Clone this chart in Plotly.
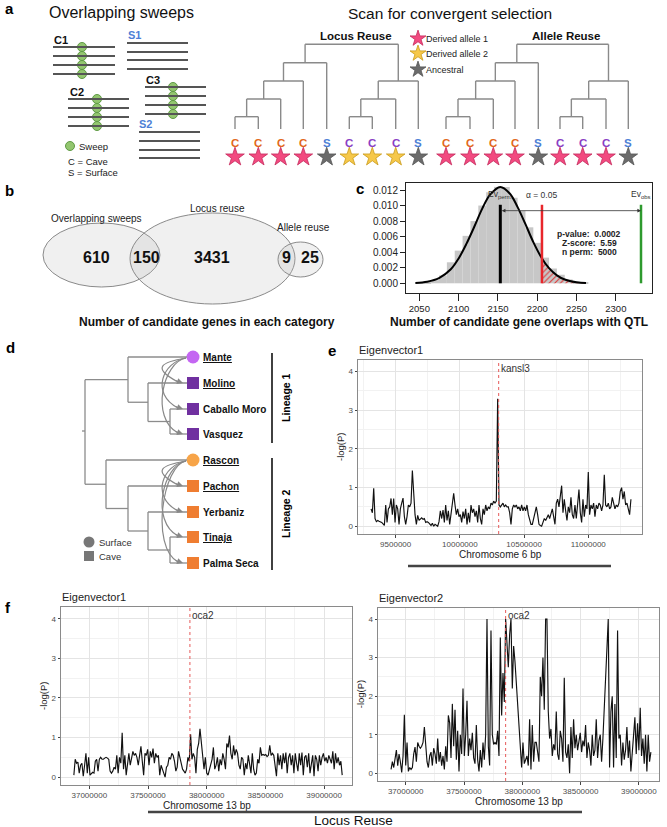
import plotly.graph_objects as go

W, H = 667, 827
FONT = "Liberation Sans, Arial, Helvetica, sans-serif"

# ======================= DATA =======================
# (a) schematic
sweep_blocks = ["C1", "S1", "C2", "C3", "S2"]
block_has_sweep = [True, False, True, True, False]
tree_names = ["Locus Reuse", "Allele Reuse"]
leaf_letters = ["C", "C", "C", "C", "S", "C", "C", "C", "S"]
leaf_group = ["cave1", "cave1", "cave1", "cave1", "surface", "cave2", "cave2", "cave2", "surface"]
locus_reuse_alleles = ["d1", "d1", "d1", "d1", "anc", "d2", "d2", "d2", "anc"]
allele_reuse_alleles = ["d1", "d1", "d1", "d1", "anc", "d1", "d1", "d1", "anc"]
allele_keys = ["d1", "d2", "anc"]
allele_legend = ["Derived allele 1", "Derived allele 2", "Ancestral"]

# (b) Venn counts
venn_set_names = ["Overlapping sweeps", "Locus reuse", "Allele reuse"]
venn_region_counts = [610, 150, 3431, 9, 25]

# (c) permutation test
hist_bin_centers = [2050, 2060, 2070, 2080, 2090, 2100, 2110, 2120, 2130, 2140, 2150,
                    2160, 2170, 2180, 2190, 2200, 2210, 2220, 2230, 2240, 2250, 2260]
hist_density = [0.0001, 0.0002, 0.0004, 0.0010, 0.0027, 0.0042, 0.0061, 0.0080, 0.0100, 0.0117, 0.0124,
                0.0124, 0.0110, 0.0093, 0.0072, 0.0052, 0.0033, 0.0019, 0.0011, 0.0005, 0.0002, 0.0001]
curve_x = [2045, 2060, 2075, 2090, 2100, 2110, 2120, 2130, 2140, 2153, 2165, 2175, 2185, 2195,
           2206, 2215, 2225, 2235, 2250, 2262]
curve_y = [0.00005, 0.0002, 0.00066, 0.0018, 0.0032, 0.0051, 0.0073, 0.0096, 0.0114, 0.0124, 0.01155,
           0.0098, 0.0076, 0.0053, 0.0032, 0.00195, 0.00102, 0.00048, 0.00013, 0.00004]
ev_perm = 2153
alpha_cut = 2206
ev_obs = 2332
vline_top = 0.0101
c_stat_lines = ["p-value:  0.0002", "Z-score:  5.59", "n perm:  5000"]
c_xticks = [2050, 2100, 2150, 2200, 2250, 2300]
c_yticks = [0.000, 0.002, 0.004, 0.006, 0.008, 0.010, 0.012]

# (d) populations
populations = ["Mante", "Molino", "Caballo Moro", "Vasquez", "Rascon",
               "Pachon", "Yerbaniz", "Tinaja", "Palma Seca"]
habitat = ["Surface", "Cave", "Cave", "Cave", "Surface", "Cave", "Cave", "Cave", "Cave"]
lineage = [1, 1, 1, 1, 2, 2, 2, 2, 2]
underlined = [True, True, False, False, True, True, False, True, False]

# (e) Eigenvector1, chromosome 6 scan (-log P per window)
e_start_bp = 9308000
e_step_bp = 10380
e_vals = [0.45, 0.35, 0.98, 0.2, 0.12, 0.15, 0.13, 0.12, 0.1, 0.06,
          0.02, 0.55, 0.1, 0.45, 0.5, 0.72, 0.3, 0.72, 0.1, 0.55,
          0.45, 0.05, 0.45, 0.6, 0.73, 0.25, 0.05, 0.25, 0.55, 0.5,
          0.6, 1.44, 0.7, 0.3, 0.05, 0.28, 0.15, 0.2, 0.22, 0.18,
          0.2, 0.1, 0.12, 0.1, 0.05, 0.02, 0.08, 0.0, 0.05, 0.02,
          0.0, 0.12, 0.4, 0.2, 0.42, 0.1, 0.55, 0.15, 0.4, 0.05,
          0.35, 0.5, 0.85, 0.55, 0.3, 0.45, 0.25, 0.3, 0.1, 0.38,
          0.2, 0.45, 0.05, 0.35, 0.1, 0.55, 0.35, 0.45, 0.25, 0.4,
          0.1, 0.55, 0.2, 0.05, 0.45, 0.3, 0.55, 0.4, 0.5, 0.45,
          0.6, 0.55, 0.65, 0.6, 0.65, 3.3, 0.55, 0.5, 0.55, 0.6,
          0.5, 0.55, 0.5, 0.5, 0.35, 0.05, 0.45, 0.55, 0.5, 0.55,
          0.45, 0.5, 0.4, 0.55, 0.4, 0.5, 0.4, 0.55, 0.3, 0.15,
          0.05, 0.05, 0.2, 0.35, 0.5, 0.3, 0.05, 0.02, 0.0, 0.1,
          0.2, 0.15, 0.25, 0.3, 0.2, 0.35, 0.45, 0.25, 0.05, 0.6,
          0.7, 0.5, 0.75, 1.05, 0.35, 0.7, 0.4, 0.15, 0.5, 0.35,
          0.75, 0.3, 0.2, 0.55, 0.2, 0.6, 0.95, 0.35, 0.1, 0.7,
          0.25, 0.55, 0.45, 1.4, 0.3, 0.55, 0.45, 0.6, 0.25, 0.55,
          0.45, 0.6, 0.55, 0.4, 0.55, 1.33, 0.55, 0.5, 0.6, 0.45,
          0.5, 0.75, 0.55, 0.45, 0.55, 0.5, 0.6, 0.9, 1.0, 0.7,
          0.9, 0.55, 0.6, 0.45, 0.3, 0.7]
kansl3_bp = 10302000

# (f) chromosome 13 scans
f1_start_bp = 36868600
f1_step_bp = 11428
f1_vals = [0.05, 0.45, 0.35, 0.38, 0.1, 0.3, 0.35, 0.02, 0.3, 0.6,
           0.1, 0.5, 0.05, 0.1, 0.12, 0.1, 0.4, 0.45, 0.15, 0.45,
           0.5, 0.45, 0.45, 0.48, 0.5, 0.48, 0.45, 0.15, 0.1, 0.15,
           0.25, 0.2, 0.55, 0.1, 0.5, 0.35, 1.12, 0.2, 0.55, 0.05,
           0.4, 0.6, 0.3, 0.45, 0.65, 0.55, 0.6, 0.5, 0.3, 0.55,
           0.78, 0.4, 0.05, 0.6, 0.55, 0.7, 0.3, 0.65, 0.5, 0.72,
           0.35, 0.6, 0.5, 0.55, 0.05, 0.3, 0.2, 0.1, 0.0, 0.25,
           0.3, 0.5, 0.45, 0.6, 0.55, 0.4, 0.15, 0.25, 0.65, 0.5,
           0.35, 0.2, 0.15, 0.1, 0.2, 0.5, 0.4, 1.08, 0.45, 0.6,
           0.5, 0.1, 0.7, 0.85, 1.22, 0.9, 0.45, 0.2, 0.5, 0.1,
           0.05, 0.2, 0.35, 0.45, 0.75, 0.2, 0.3, 0.5, 0.15, 0.45,
           0.3, 0.6, 0.45, 0.2, 0.85, 0.75, 1.05, 0.6, 0.45, 0.8,
           0.55, 0.7, 0.6, 0.3, 0.2, 0.5, 0.45, 0.05, 0.35, 0.2,
           0.55, 0.3, 0.1, 0.6, 0.2, 0.05, 0.1, 0.45, 0.35, 0.75,
           0.55, 0.57, 0.55, 0.57, 0.52, 0.55, 0.8, 0.55, 0.6, 0.55,
           0.25, 0.02, 0.6, 0.3, 0.55, 0.2, 0.6, 0.35, 0.62, 0.1,
           0.5, 0.6, 0.3, 0.55, 0.1, 0.6, 0.35, 0.15, 0.6, 0.3,
           0.62, 0.05, 0.5, 0.55, 0.25, 0.6, 0.1, 0.4, 0.55, 0.02,
           0.55, 0.45, 0.15, 0.55, 0.3, 0.5, 0.6, 0.4, 0.5, 0.35,
           0.55, 0.45, 0.35, 0.65, 0.2, 0.6, 0.35, 0.5, 0.3, 0.4,
           0.05]
f2_start_bp = 36874300
f2_step_bp = 11428
f2_vals = [0.1, 0.3, 0.15, 0.35, 0.6, 0.2, 0.5, 0.3, 0.02, 0.45,
           1.52, 0.2, 0.8, 0.05, 0.15, 0.1, 0.15, 0.5, 0.68, 0.3,
           0.8, 0.7, 0.65, 0.7, 0.8, 1.2, 0.75, 0.3, 0.15, 0.45,
           0.55, 0.2, 0.65, 0.5, 0.25, 0.9, 0.3, 0.55, 0.2, 0.45,
           0.1, 0.7, 0.3, 1.5, 1.3, 0.4, 1.8, 0.7, 1.65, 0.35,
           1.1, 0.05, 1.0, 0.5, 2.2, 0.45, 1.0, 1.88, 0.45, 0.9,
           0.6, 1.05, 0.4, 0.25, 1.25, 0.35, 0.05, 0.6, 0.15, 0.8,
           0.35, 1.0, 4.0, 0.7, 0.2, 3.7, 1.0, 0.75, 0.8, 0.75,
           1.1, 0.45, 3.52, 1.5, 2.6, 1.85, 4.0, 3.3, 2.75, 3.6,
           4.0, 2.2, 3.3, 2.9, 2.3, 1.7, 1.3, 0.75, 0.15, 0.8,
           0.25, 0.35, 0.45, 0.2, 1.4, 0.1, 1.25, 0.3, 0.8, 0.8,
           0.6, 0.3, 2.5, 2.0, 3.0, 1.65, 4.0, 4.0, 1.6, 0.9,
           1.15, 0.45, 0.75, 0.6, 1.6, 0.5, 0.35, 1.1, 0.9, 0.3,
           2.48, 0.55, 0.4, 0.75, 0.0, 1.2, 0.4, 1.4, 0.65, 1.0,
           0.6, 0.9, 1.05, 0.55, 0.85, 0.7, 1.25, 0.4, 0.8, 0.6,
           0.2, 1.0, 0.45, 0.6, 1.4, 0.4, 0.85, 1.0, 0.3, 0.9,
           1.6, 2.6, 3.2, 4.0, 0.15, 1.6, 2.0, 0.15, 1.8, 0.4,
           3.7, 0.9, 1.0, 0.2, 0.8, 0.35, 0.6, 1.2, 0.4, 0.85,
           0.05, 0.6, 0.9, 1.45, 0.5, 1.3, 0.6, 1.7, 0.45, 0.9,
           0.25, 1.0, 0.05, 1.0, 0.3, 0.55]
oca2_bp = 37857000

# ======================= HELPERS =======================
fig = go.Figure()
shapes = []
annotations = []


def dom_x(p0, p1):
    return [p0 / W, p1 / W]


def dom_y(top, bottom):
    return [1 - bottom / H, 1 - top / H]


def seg(x0, y0, x1, y1, color="#8c8c8c", width=1.3, xref="x", yref="y", dash=None, layer="above"):
    ln = dict(color=color, width=width)
    if dash:
        ln["dash"] = dash
    shapes.append(dict(type="line", x0=x0, y0=y0, x1=x1, y1=y1, xref=xref, yref=yref,
                       line=ln, layer=layer))


def txt(x, y, text, size=10, color="#000", bold=False, xanchor="center", yanchor="middle",
        angle=0, xref="x", yref="y"):
    if bold:
        text = "<b>" + text + "</b>"
    annotations.append(dict(x=x, y=y, xref=xref, yref=yref, text=text, showarrow=False,
                            font=dict(family=FONT, size=size, color=color),
                            xanchor=xanchor, yanchor=yanchor, textangle=angle, borderpad=0))


def marks(xs, ys, symbol, size, color, lcolor=None, lwidth=0):
    fig.add_trace(go.Scatter(x=xs, y=ys, mode="markers", xaxis="x", yaxis="y",
                             marker=dict(symbol=symbol, size=size, color=color,
                                         line=dict(color=lcolor or color, width=lwidth)),
                             hoverinfo="skip", showlegend=False))


# panel letters
for lab, x, y in [("a", 4, 8), ("b", 4, 190), ("c", 355, 188), ("d", 5, 347), ("e", 327, 350), ("f", 4, 607)]:
    txt(x, y, lab, size=15, bold=True, xanchor="left")

# ======================= (a) left: overlapping sweeps =======================
txt(121, 12, "Overlapping sweeps", size=16, color="#111")
block_geom = {
    "C1": dict(lab=(53, 40), x0=53, x1=115, ys=[47, 56, 65, 74], sx=82),
    "S1": dict(lab=(127, 35), x0=127, x1=188, ys=[43, 52, 60, 69], sx=None),
    "C2": dict(lab=(69, 92), x0=68, x1=129, ys=[99, 108, 117, 126], sx=97),
    "C3": dict(lab=(145, 80), x0=145, x1=206, ys=[87, 96, 105, 114], sx=173),
    "S2": dict(lab=(138, 124), x0=139, x1=200, ys=[132, 141, 150, 158], sx=None),
}
green_x, green_y = [], []
for name, has in zip(sweep_blocks, block_has_sweep):
    g = block_geom[name]
    col = "#111" if name.startswith("C") else "#4d7fd6"
    txt(g["lab"][0], g["lab"][1], name, size=11, bold=True, color=col, xanchor="left")
    for yy in g["ys"]:
        seg(g["x0"], yy, g["x1"], yy, color="#555", width=2.2)
        if has:
            green_x.append(g["sx"])
            green_y.append(yy)
green_x.append(70)
green_y.append(146)
marks(green_x, green_y, "circle", 9, "#93c66f", "#5f9a45", 1)
txt(78, 146, "Sweep", size=9.5, color="#222", xanchor="left")
txt(67, 161, "C = Cave", size=9.5, color="#222", xanchor="left")
txt(67, 172, "S = Surface", size=9.5, color="#222", xanchor="left")

# ======================= (a) right: trees =======================
txt(450, 13, "Scan for convergent selection", size=15.5, color="#111")
letter_col = {"cave1": "#e2681c", "cave2": "#8a3fc4", "surface": "#4d7fd6"}
star_col = {"d1": ("#f24a80", "#c42a5c"), "d2": ("#f6c84a", "#c99a1a"), "anc": ("#6b6b6b", "#555555")}
levels = [116.7, 99.0, 81.0, 62.7, 44.3]
leaf_bottom = 129
topology = (((((0, 1, 0), 2, 1), 3, 2), 4, 3), (((5, 6, 0), 7, 1), 8, 2), 4)


def draw_vtree(node, lx):
    if isinstance(node, int):
        return lx[node], leaf_bottom
    a, b, lvl = node
    xa, ya = draw_vtree(a, lx)
    xb, yb = draw_vtree(b, lx)
    y = levels[lvl]
    seg(xa, ya, xa, y, color="#8a8a8a", width=1.4)
    seg(xb, yb, xb, y, color="#8a8a8a", width=1.4)
    seg(xa, y, xb, y, color="#8a8a8a", width=1.4)
    return (xa + xb) / 2, y


tree_leaf_x = [
    [235, 258.3, 280.7, 303.3, 326.7, 349.3, 372.3, 395.7, 418.3],
    [446, 470, 493.3, 515, 538.3, 560, 582.7, 606, 628.3],
]
tree_title_x = [356, 566]
for t, (name, alleles) in enumerate(zip(tree_names, [locus_reuse_alleles, allele_reuse_alleles])):
    lx = tree_leaf_x[t]
    draw_vtree(topology, lx)
    txt(tree_title_x[t], 36, name, size=11.5, bold=True, color="#111")
    for i, (L, grp, al) in enumerate(zip(leaf_letters, leaf_group, alleles)):
        txt(lx[i], 143, L, size=11.5, bold=True, color=letter_col[grp])
    for key in allele_keys:
        xs = [lx[i] for i, a in enumerate(alleles) if a == key]
        if xs:
            marks(xs, [157] * len(xs), "star", 14, star_col[key][0], star_col[key][1], 0.8)
leg_y = [38.5, 53.5, 69.5]
for key, lab, yy in zip(allele_keys, allele_legend, leg_y):
    marks([418], [yy], "star", 12, star_col[key][0], star_col[key][1], 0.8)
    txt(425, yy, lab, size=9, color="#222", xanchor="left")

# ======================= (b) Venn =======================
venn_ellipses = [(43, 223, 160, 287), (130, 213, 295, 304), (278, 242, 323, 277)]
for (x0, y0, x1, y1) in venn_ellipses:
    shapes.append(dict(type="circle", xref="x", yref="y", x0=x0, y0=y0, x1=x1, y1=y1,
                       fillcolor="rgba(185,185,185,0.22)", line=dict(color="#8a8a8a", width=1),
                       layer="below"))
venn_label_pos = [(96, 218), (217, 208), (303, 227)]
for name, (x, y) in zip(venn_set_names, venn_label_pos):
    txt(x, y, name, size=10, color="#222")
venn_count_pos = [(96, 257), (146, 257), (212, 257), (286, 257), (310, 257)]
for cnt, (x, y) in zip(venn_region_counts, venn_count_pos):
    txt(x, y, str(cnt), size=16, bold=True, color="#111")
txt(207, 322, "Number of candidate genes in each category", size=12, bold=True, color="#111")

# ======================= (c) permutation histogram =======================
fig.add_trace(go.Bar(x=hist_bin_centers, y=hist_density, width=10, xaxis="x2", yaxis="y2",
                     marker=dict(color="#c7c7c7", line=dict(width=0)), hoverinfo="skip"))
hx = [x for x in curve_x if x >= alpha_cut]
hy = [y for x, y in zip(curve_x, curve_y) if x >= alpha_cut]
fig.add_trace(go.Scatter(x=hx, y=hy, mode="lines", xaxis="x2", yaxis="y2", line=dict(width=0, shape="spline"),
                         fill="tozeroy", fillcolor="rgba(0,0,0,0)",
                         fillpattern=dict(shape="/", fgcolor="#e03030", bgcolor="rgba(255,255,255,0)",
                                          size=4, solidity=0.25),
                         hoverinfo="skip"))
fig.add_trace(go.Scatter(x=curve_x, y=curve_y, mode="lines", xaxis="x2", yaxis="y2",
                         line=dict(color="#000", width=2, shape="spline", smoothing=1.0), hoverinfo="skip"))
for xv, colr, wd in [(ev_perm, "#000", 3), (alpha_cut, "#e8262b", 2.5), (ev_obs, "#2e9a2e", 2.5)]:
    fig.add_trace(go.Scatter(x=[xv, xv], y=[0, vline_top], mode="lines", xaxis="x2", yaxis="y2",
                             line=dict(color=colr, width=wd), hoverinfo="skip"))
annotations.append(dict(x=ev_obs, y=0.00934, ax=ev_perm, ay=0.00934, xref="x2", yref="y2",
                        axref="x2", ayref="y2", text="", showarrow=True, arrowhead=2, arrowside="end+start",
                        arrowsize=0.9, arrowwidth=0.8, arrowcolor="#333"))
txt(ev_perm, 0.01136, "Ev<sub>perm</sub>", size=8.5, color="#333", xref="x2", yref="y2")
txt(alpha_cut, 0.01136, "\u03b1 = 0.05", size=8.5, color="#333", xref="x2", yref="y2")
txt(ev_obs, 0.01136, "Ev<sub>obs</sub>", size=8.5, color="#333", xref="x2", yref="y2")
for line, yv in zip(c_stat_lines, [0.00634, 0.00514, 0.00406]):
    txt(2266, yv, line, size=8.5, bold=True, color="#222", xref="x2", yref="y2")
txt(519, 322, "Number of candidate gene overlaps with QTL", size=12, bold=True, color="#111")

# ======================= (d) population tree =======================
leaf_y = [357, 383, 409, 434, 460, 486, 512, 537, 563]
tip_x = 187
dtree = (85, (128, 0, (148, 1, (170, 2, 3))), (106, 4, (128, 5, (148, 6, (170, 7, 8)))))


def draw_htree(node):
    if isinstance(node, int):
        return tip_x, leaf_y[node]
    x, a, b = node
    xa, ya = draw_htree(a)
    xb, yb = draw_htree(b)
    seg(x, ya, x, yb)
    seg(x, ya, xa, ya)
    seg(x, yb, xb, yb)
    return x, (ya + yb) / 2


draw_htree(dtree)
seg(82, 431, 85, 431)
pop_color = {(1, "Surface"): "#c466f2", (1, "Cave"): "#7030a0",
             (2, "Surface"): "#f7a448", (2, "Cave"): "#ef7d31"}
for (lin, hab), colr in pop_color.items():
    idx = [i for i in range(len(populations)) if lineage[i] == lin and habitat[i] == hab]
    marks([193] * len(idx), [leaf_y[i] for i in idx],
          "circle" if hab == "Surface" else "square", 13 if hab == "Surface" else 12, colr)
for i, p in enumerate(populations):
    lab = "<u>" + p + "</u>" if underlined[i] else p
    txt(202, leaf_y[i], lab, size=10, bold=True, color="#111", xanchor="left")
# curved arrows from surface to cave populations
for lin in [1, 2]:
    src = [i for i in range(len(populations)) if lineage[i] == lin and habitat[i] == "Surface"][0]
    ys = leaf_y[src]
    for i in range(len(populations)):
        if lineage[i] == lin and habitat[i] == "Cave":
            ty = leaf_y[i]
            shapes.append(dict(type="path", xref="x", yref="y",
                               path=f"M 186 {ys + 1} C 163 {ys + 5}, 150 {ty - 16}, 178 {ty - 1}",
                               line=dict(color="#888", width=1.2)))
            annotations.append(dict(x=183, y=ty, xref="x", yref="y", ax=-9, ay=-3, text="",
                                    showarrow=True, arrowhead=2, arrowsize=1, arrowwidth=1.2,
                                    arrowcolor="#888"))
# lineage bars
seg(272, 353, 272, 443, color="#111", width=1.6)
seg(272, 458, 272, 570, color="#111", width=1.6)
txt(286, 398, "Lineage 1", size=10.5, bold=True, angle=-90)
txt(286, 514, "Lineage 2", size=10.5, bold=True, angle=-90)
marks([89], [542], "circle", 11, "#777")
marks([89], [556], "square", 10, "#777")
txt(98, 542, "Surface", size=9.5, color="#333", xanchor="left")
txt(98, 556, "Cave", size=9.5, color="#333", xanchor="left")

# ======================= scan panels (e, f) =======================


def scan_axes(xr, yr, dx, dy, yanchor_name, xanchor_name):
    grid = dict(showgrid=True, gridcolor="#e4e4e4", gridwidth=0.8)
    xa = dict(domain=dx, range=xr, anchor=yanchor_name, tickmode="linear", tick0=0, dtick=500000,
              tickformat="d", ticks="outside", ticklen=2.5, tickwidth=0.8, tickcolor="#444",
              tickfont=dict(family=FONT, size=8, color="#4d4d4d"), showline=True, mirror=True,
              linecolor="#8a8a8a", linewidth=1, zeroline=False, automargin=False, fixedrange=True,
              minor=dict(dtick=250000, tick0=0, showgrid=True, gridcolor="#f2f2f2", gridwidth=0.5), **grid)
    ya = dict(domain=dy, range=yr, anchor=xanchor_name, tickmode="linear", tick0=0, dtick=1,
              ticks="outside", ticklen=2.5, tickwidth=0.8, tickcolor="#444",
              tickfont=dict(family=FONT, size=8, color="#4d4d4d"), showline=True, mirror=True,
              linecolor="#8a8a8a", linewidth=1, zeroline=False, automargin=False, fixedrange=True,
              minor=dict(dtick=0.5, tick0=0, showgrid=True, gridcolor="#f2f2f2", gridwidth=0.5), **grid)
    return xa, ya


scan_specs = [
    ("3", e_vals, e_start_bp, e_step_bp, kansl3_bp, "kansl3", (358, 642, 360, 534),
     [9206400, 11418200], "Eigenvector1", "Chromosome 6 bp", 20),
    ("4", f1_vals, f1_start_bp, f1_step_bp, oca2_bp, "oca2", (61, 352, 607, 785),
     [36759000, 39237600], "Eigenvector1", "Chromosome 13 bp", 20),
    ("5", f2_vals, f2_start_bp, f2_step_bp, oca2_bp, "oca2", (378, 659, 607.5, 781),
     [36762400, 39172400], "Eigenvector2", "Chromosome 13 bp", 20.5),
]
scan_layout = {}
for aid, vals, start, step, gene, gname, (l, r, t, b), xr, title, xtitle, tgap in scan_specs:
    pos = [start + step * i for i in range(len(vals))]
    xa, ya = scan_axes(xr, [-0.2, 4.3], dom_x(l, r), dom_y(t, b), "y" + aid, "x" + aid)
    scan_layout["xaxis" + aid] = xa
    scan_layout["yaxis" + aid] = ya
    fig.add_trace(go.Scatter(x=pos, y=vals, mode="lines", xaxis="x" + aid, yaxis="y" + aid,
                             line=dict(color="#111", width=1.15), hoverinfo="skip"))
    shapes.append(dict(type="line", xref="x" + aid, yref="y" + aid + " domain", x0=gene, x1=gene,
                       y0=0, y1=1, line=dict(color="#e65a5a", width=1, dash="dot"), layer="above"))
    txt(gene, 4.08, gname, size=10, color="#333", xanchor="left", xref="x" + aid, yref="y" + aid)
    annotations[-1]["xshift"] = 1
    txt(l, t - 10, title, size=11, color="#222", xanchor="left")
    txt((l + r) / 2, b + tgap, xtitle, size=10, color="#222")
    txt(l - 18, (t + b) / 2, "-log(P)", size=9.5, color="#222", angle=-90)

seg(408, 566, 611, 566, color="#444", width=2.4)
seg(148, 812, 582, 812, color="#444", width=2.4)
txt(353, 820, "Locus Reuse", size=13.5, color="#111")

# ======================= LAYOUT =======================
layout = dict(
    width=W, height=H, margin=dict(l=0, r=0, t=0, b=0, pad=0),
    paper_bgcolor="white", plot_bgcolor="white", showlegend=False, hovermode=False,
    template="none", font=dict(family=FONT, color="#111"),
    xaxis=dict(domain=[0, 1], range=[0, W], visible=False, fixedrange=True),
    yaxis=dict(domain=[0, 1], range=[H, 0], visible=False, fixedrange=True),
    xaxis2=dict(domain=dom_x(406, 652), range=[2033, 2346], anchor="y2", tickmode="array",
                tickvals=c_xticks, ticks="outside", ticklen=7, tickwidth=1, tickcolor="#222",
                tickfont=dict(family=FONT, size=9.5, color="#222"), showline=True, mirror=True,
                linecolor="#222", linewidth=1, showgrid=False, zeroline=False, automargin=False,
                fixedrange=True),
    yaxis2=dict(domain=dom_y(183, 293), range=[-0.00125, 0.0129], anchor="x2", tickmode="array",
                tickvals=c_yticks, ticktext=[f"{v:.3f}" for v in c_yticks], ticks="outside", ticklen=5,
                tickwidth=1, tickcolor="#222", tickfont=dict(family=FONT, size=10, color="#222"),
                showline=True, mirror=True, linecolor="#222", linewidth=1, showgrid=False,
                zeroline=False, automargin=False, fixedrange=True),
    shapes=shapes, annotations=annotations, barmode="overlay",
)
layout.update(scan_layout)
fig.update_layout(**layout)
fig.write_html("out.html", config={"displayModeBar": False},
               post_script="document.body.style.margin='0px';document.body.style.overflow='hidden';")
